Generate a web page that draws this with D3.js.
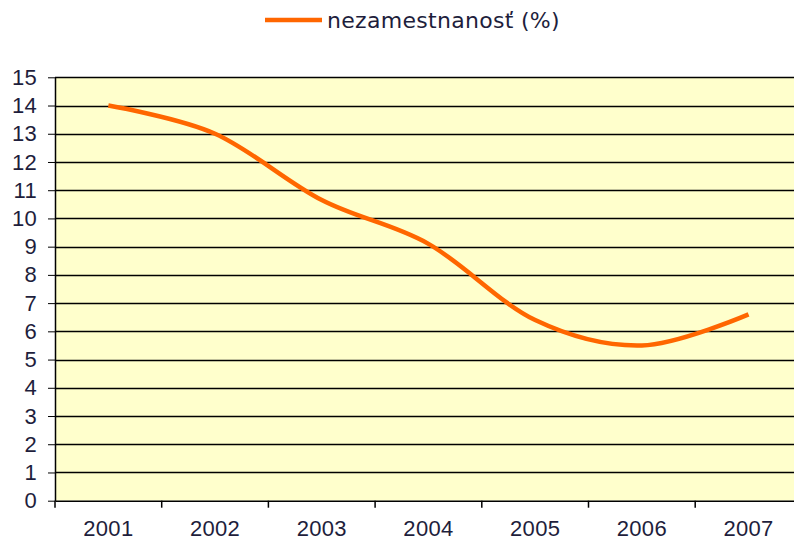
<!DOCTYPE html>
<html>
<head>
<meta charset="utf-8">
<script src="https://cdn.jsdelivr.net/npm/d3@7"></script>
<style>
  body { margin: 0; background: #fff; }
  svg { display: block; font-family: "DejaVu Sans", Verdana, sans-serif; }
  .axis text { fill: #1e1e3c; font-size: 22px; letter-spacing: 0.3px; }
  .axis path, .axis line { stroke: #000; }
</style>
</head>
<body>
<div id="chart"></div>
<script>
// ------------------------------ DATA -----------------------------------------
var years = ["2001", "2002", "2003", "2004", "2005", "2006", "2007"];
var unemployment = [14.0, 13.0, 10.65, 9.1, 6.4, 5.5, 6.6];
var yTicks = d3.range(0, 16);
var seriesName = "nezamestnanosť (%)";

// ------------------------------ CANVAS ---------------------------------------
var svgWidth = 794, svgHeight = 542;
var plot = {left: 55, top: 77.3, bottom: 500.7, bandWidth: 106.7};

var svg = d3.select("#chart").append("svg")
  .attr("width", svgWidth)
  .attr("height", svgHeight);

// ------------------------------ SCALES ---------------------------------------
var x = d3.scaleBand()
  .domain(years)
  .range([plot.left, plot.left + plot.bandWidth * years.length]);

var y = d3.scaleLinear()
  .domain([0, 15])
  .range([plot.bottom, plot.top]);

// plot background
svg.append("rect")
  .attr("x", plot.left)
  .attr("y", plot.top)
  .attr("width", x.range()[1] - plot.left)
  .attr("height", plot.bottom - plot.top)
  .attr("fill", "#ffffcc");

// horizontal gridlines
svg.append("g")
  .selectAll("line")
  .data(yTicks.filter(d => d > 0))
  .enter().append("line")
    .attr("x1", plot.left)
    .attr("x2", x.range()[1])
    .attr("y1", d => Math.round(y(d)) + 0.5)
    .attr("y2", d => Math.round(y(d)) + 0.5)
    .attr("stroke", "#000")
    .attr("stroke-width", 1.3);

// ------------------------------ AXES -----------------------------------------
var yAxis = svg.append("g")
  .attr("class", "axis")
  .attr("transform", `translate(${plot.left}, 0)`)
  .call(d3.axisLeft(y).tickValues(yTicks).tickSize(7).tickPadding(11).tickSizeOuter(0));
yAxis.select(".domain").attr("stroke-width", 1.5);

var xAxis = svg.append("g")
  .attr("class", "axis")
  .attr("transform", `translate(0, ${plot.bottom})`)
  .call(d3.axisBottom(x).tickSize(0).tickPadding(20).tickSizeOuter(0));
xAxis.select(".domain").attr("stroke-width", 1.5);

// category boundary ticks
xAxis.selectAll(".sep")
  .data(years)
  .enter().append("line")
    .attr("class", "sep")
    .attr("x1", d => x(d))
    .attr("x2", d => x(d))
    .attr("y1", 0)
    .attr("y2", 7)
    .attr("stroke", "#000")
    .attr("stroke-width", 1.5);

// ------------------------------ LINE -----------------------------------------
var line = d3.line()
  .x((d, i) => x(years[i]) + x.bandwidth() / 2)
  .y(d => y(d))
  .curve(d3.curveCardinal.tension(0));

svg.append("path")
  .datum(unemployment)
  .attr("d", line)
  .attr("fill", "none")
  .attr("stroke", "#ff6600")
  .attr("stroke-width", 4.5);

// ------------------------------ LEGEND ---------------------------------------
var legend = svg.append("g").attr("transform", "translate(265, 20)");
legend.append("line")
  .attr("x1", 0).attr("x2", 57)
  .attr("y1", 0).attr("y2", 0)
  .attr("stroke", "#ff6600")
  .attr("stroke-width", 4.5);
legend.append("text")
  .attr("x", 62)
  .attr("y", 0)
  .attr("dy", "0.35em")
  .attr("fill", "#1e1e3c")
  .style("font-size", "22px")
  .style("letter-spacing", "0.3px")
  .text(seriesName);
</script>
</body>
</html>
